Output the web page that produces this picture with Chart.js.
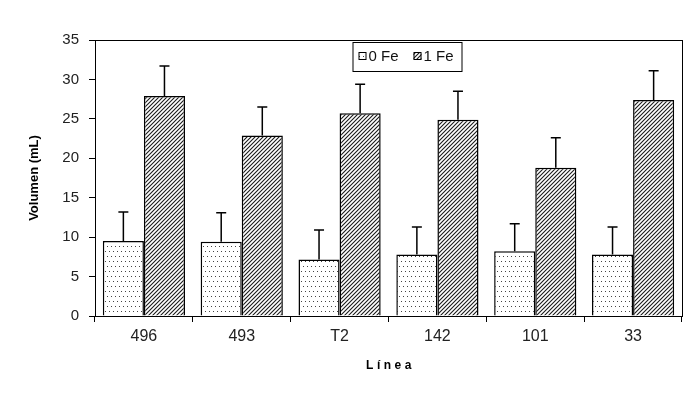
<!DOCTYPE html>
<html>
<head>
<meta charset="utf-8">
<script src="https://cdn.jsdelivr.net/npm/chart.js@4.4.1/dist/chart.umd.min.js"></script>
<style>
  html, body { margin: 0; padding: 0; background: #fff; }
  #wrap { width: 697px; height: 397px; }
</style>
</head>
<body>
<div id="wrap"><canvas id="volChart"></canvas></div>
<script>
// --- datos ---
const lineas = ['496', '493', 'T2', '142', '101', '33'];
const vol0Fe = [9.5, 9.4, 7.15, 7.8, 8.2, 7.8];
const err0Fe = [3.7, 3.7, 3.75, 3.5, 3.5, 3.5];
const vol1Fe = [27.9, 22.9, 25.7, 24.9, 18.8, 27.4];
const err1Fe = [3.8, 3.6, 3.7, 3.6, 3.8, 3.7];
const yTicks = [0, 5, 10, 15, 20, 25, 30, 35];

// --- tramas (puntos y rayado) ---
function dotPattern() {
    const c = document.createElement('canvas');
    c.width = 4; c.height = 10;
    const g = c.getContext('2d');
    g.fillStyle = '#fff';
    g.fillRect(0, 0, 4, 10);
    g.fillStyle = '#444';
    g.fillRect(1, 1, 1, 1);
    g.fillRect(3, 6, 1, 1);
    return g.createPattern(c, 'repeat');
}

function hatchPattern() {
    const c = document.createElement('canvas');
    c.width = 4; c.height = 4;
    const g = c.getContext('2d');
    g.fillStyle = '#fff';
    g.fillRect(0, 0, 4, 4);
    g.strokeStyle = '#1a1a1a';
    g.lineWidth = 1.1;
    g.beginPath();
    g.moveTo(0, 4); g.lineTo(4, 0);
    g.moveTo(-1, 1); g.lineTo(1, -1);
    g.moveTo(3, 5); g.lineTo(5, 3);
    g.stroke();
    return g.createPattern(c, 'repeat');
}

const dots = dotPattern();
const hatch = hatchPattern();

// barras de error (solo hacia arriba, con tope)
const errorBars = {
    id: 'errorBars',
    afterDatasetsDraw(chart) {
        const ctx = chart.ctx;
        const y = chart.scales.y;
        ctx.save();
        ctx.strokeStyle = '#000';
        ctx.lineWidth = 1.5;
        chart.data.datasets.forEach((ds, i) => {
            const meta = chart.getDatasetMeta(i);
            meta.data.forEach((bar, j) => {
                const top = y.getPixelForValue(ds.data[j] + ds.errUp[j]);
                ctx.beginPath();
                ctx.moveTo(bar.x, bar.y);
                ctx.lineTo(bar.x, top);
                ctx.moveTo(bar.x - 5, top);
                ctx.lineTo(bar.x + 5, top);
                ctx.stroke();
            });
        });
        ctx.restore();
    }
};

// marco, leyenda en recuadro y título del eje x con espaciado
const frame = {
    id: 'frame',
    afterDraw(chart) {
        const ctx = chart.ctx;
        const a = chart.chartArea;
        ctx.save();
        ctx.strokeStyle = '#000';
        ctx.lineWidth = 1;
        ctx.strokeRect(a.left + 0.5, a.top + 0.5, a.right - a.left, a.bottom - a.top);

        // leyenda
        const bx = (a.left + a.right) / 2 - 36, by = a.top + 2;
        ctx.fillStyle = '#fff';
        ctx.fillRect(bx, by, 109, 29);
        ctx.strokeRect(bx + 0.5, by + 0.5, 109, 29);
        const items = [[dots, '0 Fe', 6], [hatch, '1 Fe', 61]];
        ctx.font = '15px "Liberation Sans", Arial, sans-serif';
        ctx.textBaseline = 'middle';
        items.forEach(([pat, txt, dx]) => {
            ctx.fillStyle = pat;
            ctx.fillRect(bx + dx, by + 10, 8, 8);
            ctx.strokeRect(bx + dx + 0.5, by + 10.5, 7, 7);
            ctx.fillStyle = '#111';
            ctx.fillText(txt, bx + dx + 10, by + 15);
        });

        // título eje x
        ctx.font = 'bold 12px "Liberation Sans", Arial, sans-serif';
        ctx.letterSpacing = '3.5px';
        ctx.textAlign = 'center';
        ctx.fillStyle = '#000';
        ctx.fillText('Línea', (a.left + a.right) / 2 + 2, 366);
        ctx.restore();
    }
};

new Chart(document.getElementById('volChart'), {
    type: 'bar',
    data: {
        labels: lineas,
        datasets: [
            {
                label: '0 Fe',
                data: vol0Fe,
                errUp: err0Fe,
                backgroundColor: dots,
                borderColor: '#000',
                borderWidth: 1.5
            },
            {
                label: '1 Fe',
                data: vol1Fe,
                errUp: err1Fe,
                backgroundColor: hatch,
                borderColor: '#000',
                borderWidth: 1.5
            }
        ]
    },
    options: {
        responsive: true,
        maintainAspectRatio: false,
        animation: false,
        layout: { padding: { top: 40, right: 15, left: 0, bottom: 0 } },
        datasets: { bar: { categoryPercentage: 0.84, barPercentage: 1 } },
        plugins: {
            legend: { display: false },
            tooltip: { enabled: false }
        },
        scales: {
            x: {
                afterFit: s => { s.height = 81; },
                grid: { drawOnChartArea: false, tickLength: 6, color: '#000' },
                border: { color: '#000' },
                ticks: {
                    color: '#222',
                    padding: 5,
                    font: { family: '"Liberation Sans", Arial, sans-serif', size: 16 }
                }
            },
            y: {
                min: 0,
                max: 35,
                afterFit: s => { s.width = 95; },
                afterBuildTicks: s => { s.ticks = yTicks.map(v => ({ value: v })); },
                grid: { drawOnChartArea: false, tickLength: 6, color: '#000' },
                border: { color: '#000' },
                ticks: {
                    color: '#222',
                    padding: 10,
                    font: { family: '"Liberation Sans", Arial, sans-serif', size: 15 }
                },
                title: {
                    display: true,
                    text: 'Volumen (mL)',
                    color: '#000',
                    padding: { top: 27 },
                    font: { family: '"Liberation Sans", Arial, sans-serif', size: 13, weight: 'bold' }
                }
            }
        }
    },
    plugins: [errorBars, frame]
});
</script>
</body>
</html>
